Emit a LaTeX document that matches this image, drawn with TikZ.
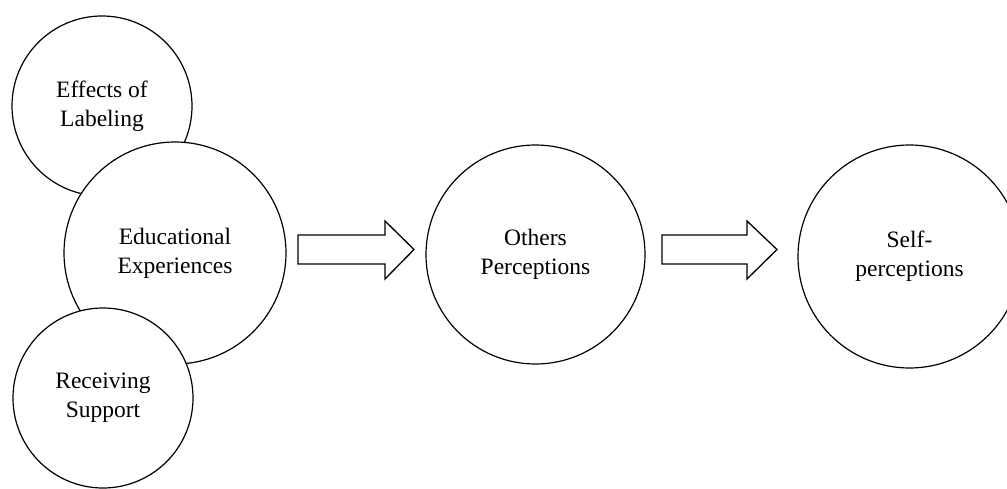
\documentclass[tikz,border=0pt]{standalone}
\usepackage{fontspec}
\setmainfont{Liberation Serif}
\begin{document}
\begin{tikzpicture}[x=1pt,y=-1pt,
  bubble/.style={circle,draw=black,line width=1.2pt,fill=white,inner sep=0pt,
    align=center,font=\fontsize{23.5}{29}\selectfont},
  blockarrow/.style={draw=black,line width=1.3pt,fill=white,line join=miter}]
\useasboundingbox (0,0) rectangle (1007,489);
\clip (0,0) rectangle (1007,489);
% left cluster (drawing order matters for overlaps)
\node[bubble,minimum size=180pt] (eff) at (102,106) {Effects of\\Labeling};
\node[bubble,minimum size=222pt] (edu) at (175,253) {Educational\\Experiences};
\node[bubble,minimum size=180pt] (rec) at (103,398) {Receiving\\Support};
\node[bubble,minimum size=219pt] (oth) at (535.5,254.5) {Others\\Perceptions};
\node[bubble,minimum size=223pt] (self) at (909.5,256.5) {Self-\\perceptions};
% block arrows
\draw[blockarrow] (298,235) -- (385,235) -- (385,221) -- (414,249.5) -- (385,279)
  -- (385,264) -- (298,264) -- cycle;
\draw[blockarrow] (662,235) -- (747,235) -- (747,221) -- (777,249.5) -- (747,279)
  -- (747,264) -- (662,264) -- cycle;
\end{tikzpicture}
\end{document}
